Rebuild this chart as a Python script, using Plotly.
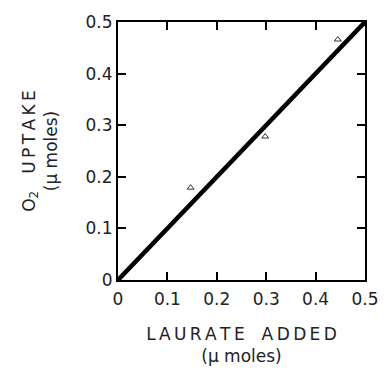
import plotly.graph_objects as go

# data
laurate = [0.147, 0.298, 0.445]
o2_uptake = [0.179, 0.278, 0.466]
fit_x = [0.0, 0.5]
fit_y = [0.0, 0.5]
tick_vals = [0, 0.1, 0.2, 0.3, 0.4, 0.5]
tick_text = ["0", "0.1", "0.2", "0.3", "0.4", "0.5"]


def spaced(s):
    return "\u2009".join(s)


FONT = "DejaVu Sans"
COLOR = "#222"

fig = go.Figure()
fig.add_trace(go.Scatter(x=fit_x, y=fit_y, mode="lines",
                         line=dict(color="black", width=4.5), showlegend=False))
fig.add_trace(go.Scatter(x=laurate, y=o2_uptake, mode="markers",
                         marker=dict(symbol="triangle-up-open", size=6, color="black",
                                     line=dict(width=0.8)), showlegend=False))

axis_common = dict(range=[0, 0.5], tickvals=tick_vals, ticktext=tick_text,
                   ticks="inside", ticklen=8, tickwidth=1.5, tickcolor="black",
                   showline=True, linecolor="black", linewidth=2, mirror="allticks",
                   showgrid=False, zeroline=False,
                   tickfont=dict(family=FONT, size=17, color=COLOR))

fig.update_xaxes(**axis_common, ticklabelstandoff=3,
                 title=dict(text=spaced("LAURATE") + "\u2003" + spaced("ADDED")
                            + "<br>(μ moles)",
                            font=dict(family=FONT, size=17, color=COLOR),
                            standoff=20))
fig.update_yaxes(**axis_common,
                 title=dict(text="O<sub>2</sub>\u2003" + spaced("UPTAKE")
                            + "<br>(μ moles)",
                            font=dict(family=FONT, size=17, color=COLOR),
                            standoff=24))

fig.update_layout(width=391, height=375,
                  margin=dict(l=118, r=18, t=15, b=92),
                  plot_bgcolor="white", paper_bgcolor="white")

fig.write_html("out.html")
